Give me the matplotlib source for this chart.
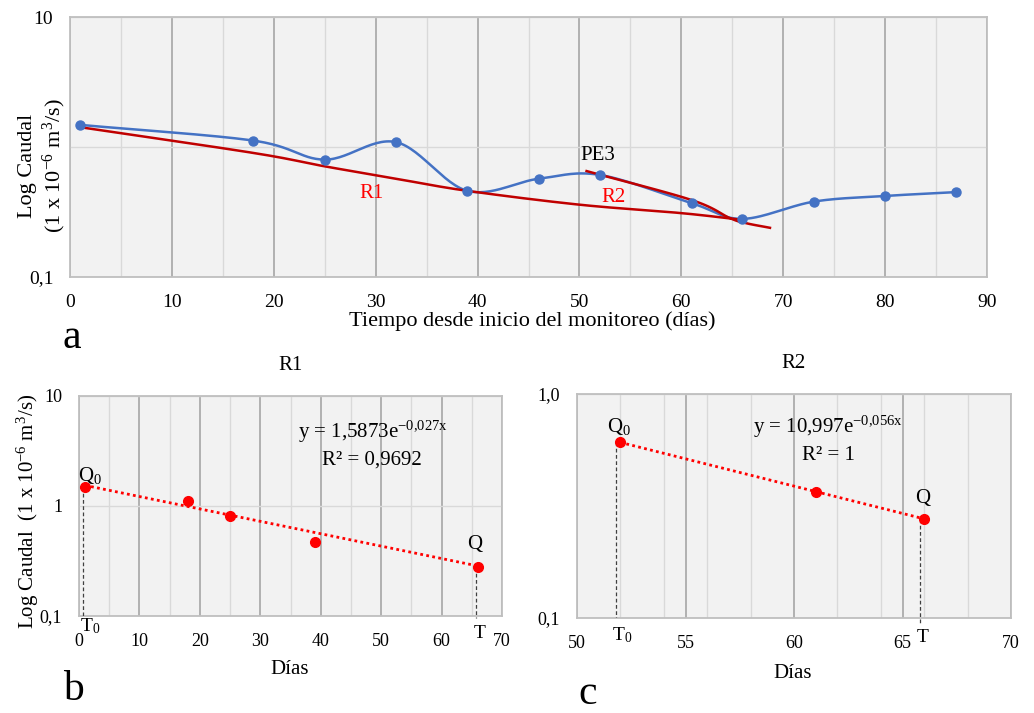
import numpy as np
import matplotlib.pyplot as plt
from matplotlib.ticker import FixedLocator, NullLocator

# fuente tipo Times
plt.rcParams['font.family'] = ['Liberation Serif', 'DejaVu Serif']
plt.rcParams['mathtext.fontset'] = 'custom'
plt.rcParams['mathtext.rm'] = 'Liberation Serif'
plt.rcParams['mathtext.it'] = 'Liberation Serif'

# datos del monitoreo (a)
dias = [1, 18, 25, 32, 39, 46, 52, 61, 66, 73, 80, 87]
caudal = [1.48, 1.12, 0.80, 1.09, 0.46, 0.57, 0.61, 0.37, 0.28, 0.38, 0.42, 0.45]
# rectas de recesion dibujadas en (a)
r1_x = [1, 18, 25, 32, 39, 50, 60, 66]
r1_y = [1.42, 0.90, 0.71, 0.57, 0.46, 0.36, 0.31, 0.275]
r2_x = [50.7, 61, 64.8, 66.4, 68.7]
r2_y = [0.653, 0.391, 0.283, 0.259, 0.239]

# R1 (b)
b_x = [1, 18, 25, 39, 66]
b_y = [1.49, 1.12, 0.81, 0.47, 0.28]
b_tend_x = [1, 66]
b_tend_y = [1.54, 0.285]

# R2 (c)
c_x = [52, 61, 66]
c_y = [0.608, 0.366, 0.277]
c_tend_x = [52, 66]
c_tend_y = [0.608, 0.277]

W, H = 1034, 713
fig = plt.figure(figsize=(W / 100, H / 100), dpi=100)


def px(x, y):
    # pixel -> coordenadas de figura
    return x / W, 1 - y / H


def ftext(x, y, s, **kw):
    fx, fy = px(x, y)
    fig.text(fx, fy, s, ha=kw.pop('ha', 'center'), va=kw.pop('va', 'center'), **kw)


def add_ax(l, t, r, b):
    x0, y1 = px(l, t)
    x1, y0 = px(r, b)
    return fig.add_axes([x0, y0, x1 - x0, y1 - y0])


def suavizar(x, y, n=30):
    # curva suavizada tipo Excel (Catmull-Rom en escala log)
    x = np.asarray(x, float)
    y = np.log10(np.asarray(y, float))
    qx = np.concatenate([[2 * x[0] - x[1]], x, [2 * x[-1] - x[-2]]])
    qy = np.concatenate([[2 * y[0] - y[1]], y, [2 * y[-1] - y[-2]]])
    t = np.linspace(0, 1, n)
    xs, ys = [], []
    for i in range(1, len(qx) - 2):
        for q, out in ((qx, xs), (qy, ys)):
            p0, p1, p2, p3 = q[i - 1], q[i], q[i + 1], q[i + 2]
            out.extend(0.5 * (2 * p1 + (-p0 + p2) * t + (2 * p0 - 5 * p1 + 4 * p2 - p3) * t ** 2
                              + (-p0 + 3 * p1 - 3 * p2 + p3) * t ** 3))
    return np.array(xs), 10 ** np.array(ys)


def estilo(ax, xmaj, xmin, yticks, ylabels, xlim, ylim, fs=13):
    ax.set_facecolor('#f2f2f2')
    for s in ax.spines.values():
        s.set_color('#bfbfbf')
        s.set_linewidth(1.3)
    ax.set_yscale('log')
    ax.set_xlim(xlim)
    ax.set_ylim(ylim)
    ax.xaxis.set_major_locator(FixedLocator(xmaj))
    ax.xaxis.set_minor_locator(FixedLocator(xmin))
    ax.yaxis.set_major_locator(FixedLocator(yticks))
    ax.yaxis.set_minor_locator(NullLocator())
    ax.set_yticklabels(ylabels)
    ax.grid(axis='x', which='major', color='#a6a6a6', lw=1.2)
    ax.grid(axis='x', which='minor', color='#d9d9d9', lw=1.0)
    ax.grid(axis='y', which='major', color='#d9d9d9', lw=1.0)
    ax.tick_params(which='both', length=0, labelsize=fs, pad=12)
    ax.set_axisbelow(True)


# ---------- (a) ----------
ax = add_ax(70, 17, 987, 277)
estilo(ax, range(0, 91, 10), range(5, 90, 10), [0.1, 1, 10], ['0,1', '', '10'],
       (0, 90), (0.1, 10), fs=14)
sx, sy = suavizar(dias, caudal)
ax.plot(sx, sy, color='#4472c4', lw=1.8, zorder=3)
ax.plot(dias, caudal, 'o', color='#4472c4', ms=6.5, zorder=4)
sx, sy = suavizar(r1_x, r1_y)
ax.plot(sx, sy, color='#c00000', lw=1.8, zorder=3)
sx, sy = suavizar(r2_x, r2_y)
ax.plot(sx, sy, color='#c00000', lw=1.8, zorder=3)

ftext(371, 194, 'R1', color='#ff0000', fontsize=15)
ftext(613, 197, 'R2', color='#ff0000', fontsize=15)
ftext(598, 155, 'PE3', color='black', fontsize=15)
ftext(43, 166, 'Log Caudal\n(1 x 10$^{-6}$ m$^{3}$/s)', rotation=90, fontsize=16,
      multialignment='center', linespacing=1.15)
ftext(532, 321, 'Tiempo desde inicio del monitoreo (días)', fontsize=16)
ftext(72, 338, 'a', fontsize=30)

# ---------- (b) ----------
ax = add_ax(79, 396, 502, 616)
estilo(ax, range(0, 71, 10), range(5, 70, 10), [0.1, 1, 10], ['0,1', '1', '10'],
       (0, 70), (0.1, 10))
ax.plot(b_tend_x, b_tend_y, color='#ff0000', lw=2, ls=(0, (1, 1.2)), zorder=3)
ax.plot(b_x, b_y, 'o', color='#ff0000', ms=7, zorder=4)
ax.plot([b_x[0] - 0.3, b_x[0] - 0.3], [b_y[0], 0.1], color='#404040', lw=0.9,
        ls=(0, (3, 2)), zorder=3)
ax.plot([b_x[-1] - 0.3, b_x[-1] - 0.3], [b_y[-1], 0.095], color='#404040', lw=0.9,
        ls=(0, (3, 2)), zorder=3, clip_on=False)
ax.set_title('R1', fontsize=15, pad=19)
ftext(28, 511, 'Log Caudal  (1 x 10$^{-6}$ m$^{3}$/s)', rotation=90, fontsize=15)
ftext(290, 669, 'Días', fontsize=15)
ftext(73, 690, 'b', fontsize=30)
ftext(90, 475, 'Q$_{0}$', fontsize=15)
ftext(475, 545, 'Q', fontsize=15)
ftext(90, 626, 'T$_{0}$', fontsize=14)
ftext(480, 633, 'T', fontsize=14)
ftext(298, 432, 'y = 1,5873e$^{\\mathrm{-0{,}027x}}$', fontsize=15, ha='left')
ftext(322, 460, 'R² = 0,9692', fontsize=15, ha='left')

# ---------- (c) ----------
ax = add_ax(577, 394, 1011, 618)
estilo(ax, range(50, 71, 5), [52, 54, 56, 58, 62, 64, 66, 68], [0.1, 1], ['0,1', '1,0'],
       (50, 70), (0.1, 1))
ax.plot(c_tend_x, c_tend_y, color='#ff0000', lw=2, ls=(0, (1, 1.2)), zorder=3)
ax.plot(c_x, c_y, 'o', color='#ff0000', ms=7, zorder=4)
ax.plot([c_x[0] - 0.2, c_x[0] - 0.2], [c_y[0], 0.1], color='#404040', lw=0.9,
        ls=(0, (3, 2)), zorder=3)
ax.plot([c_x[-1] - 0.2, c_x[-1] - 0.2], [c_y[-1], 0.093], color='#404040', lw=0.9,
        ls=(0, (3, 2)), zorder=3, clip_on=False)
ax.set_title('R2', fontsize=15, pad=19)
ftext(793, 673, 'Días', fontsize=15)
ftext(588, 694, 'c', fontsize=30)
ftext(619, 427, 'Q$_{0}$', fontsize=15)
ftext(923, 498, 'Q', fontsize=15)
ftext(622, 635, 'T$_{0}$', fontsize=14)
ftext(923, 637, 'T', fontsize=14)
ftext(753, 427, 'y = 10,997e$^{\\mathrm{-0{,}056x}}$', fontsize=15, ha='left')
ftext(802, 456, 'R² = 1', fontsize=15, ha='left')

plt.savefig('out.png', dpi=100)
